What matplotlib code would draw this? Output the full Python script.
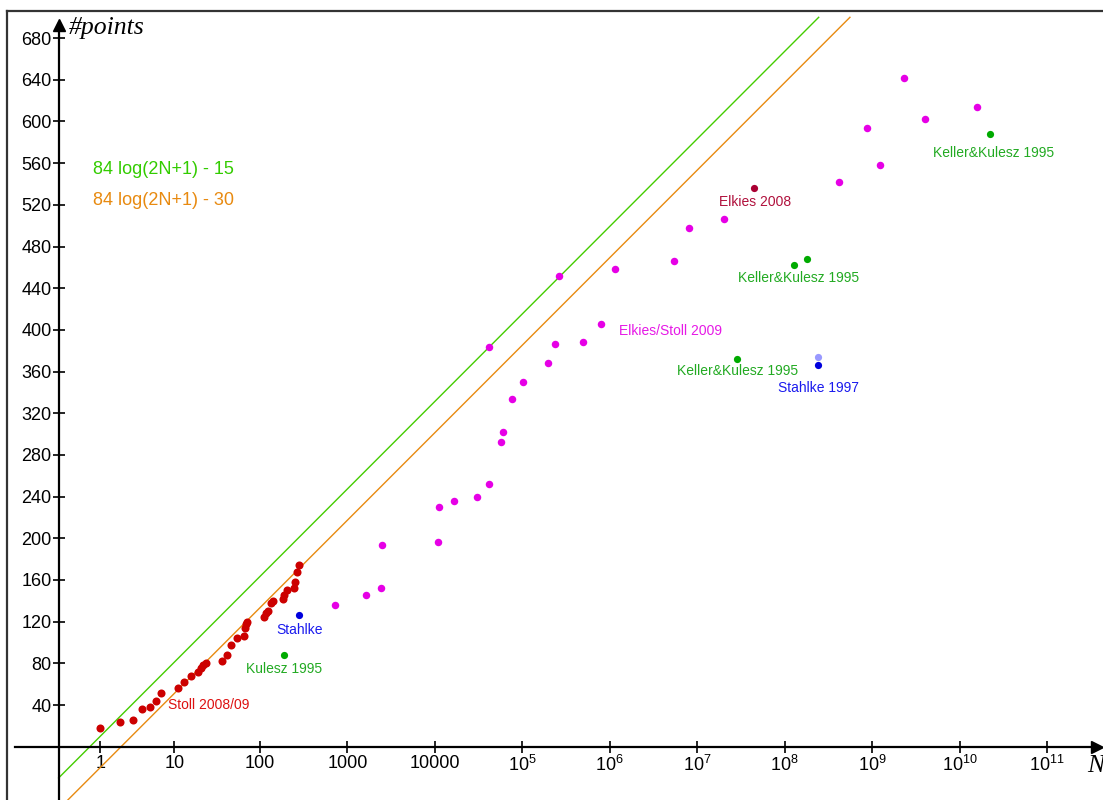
import numpy as np
import matplotlib
matplotlib.use('Agg')
from matplotlib import pyplot as plt
from matplotlib.lines import Line2D

plt.rcParams['font.family'] = ['Liberation Sans', 'DejaVu Sans']
plt.rcParams['mathtext.fontset'] = 'custom'
plt.rcParams['mathtext.rm'] = 'Liberation Sans'
plt.rcParams['mathtext.it'] = 'Liberation Sans:italic'

# records: height bound N and number of points
stoll_N = [1, 2, 3, 4, 5, 6, 7, 11, 13, 16, 19, 21, 22, 24, 36, 42, 46, 54, 66,
           67, 69, 71, 110, 117, 125, 133, 142, 182, 190, 204, 246, 250, 266, 280]
stoll_pts = [18, 24, 26, 36, 38, 44, 52, 56, 62, 68, 72, 76, 78, 80, 82, 88, 98, 104, 106,
             114, 118, 120, 124, 128, 130, 138, 140, 142, 146, 150, 152, 158, 168, 174]

es_N = [717, 1637, 2450, 2471, 10990, 11270, 16600, 30700, 41400, 42000, 57300, 60900,
        76000, 103000, 195000, 239000, 263000, 500000, 800000, 1160000, 5400000,
        8070000, 20300000, 420000000, 880000000, 1220000000, 2340000000, 4000000000,
        15800000000]
es_pts = [136, 146, 152, 194, 196, 230, 236, 240, 252, 384, 292, 302,
          334, 350, 368, 386, 452, 388, 406, 458, 466,
          498, 506, 542, 594, 558, 642, 602,
          614]

kk_N = [190, 28800000, 129000000, 182000000, 22000000000]
kk_pts = [88, 372, 462, 468, 588]

stahlke_N = [280, 243000000]
stahlke_pts = [126, 366]
stahlke_light_N = [243000000]
stahlke_light_pts = [374]

elkies_N = [45000000]
elkies_pts = [536]

tick_N = [10 ** k for k in range(12)]
tick_labels = ['1', '10', '100', '1000', '10000'] + ['$10^{%d}$' % k for k in range(5, 12)]
y_ticks = list(range(40, 681, 40))

# line offsets as drawn in the picture
green_off = 30
orange_off = 60
slope = 84


def u(n):
    return np.log10(2 * np.asarray(n, dtype=float) + 1)


fig = plt.figure(figsize=(11.03, 8.0), dpi=100)
ax = fig.add_axes([0, 0, 1, 1])
ax.set_xlim(-0.670, 11.941)
ax.set_ylim(-51.15, 716.6)

for s in ['top', 'right']:
    ax.spines[s].set_visible(False)
ax.spines['left'].set_position(('data', 0))
ax.spines['bottom'].set_position(('data', 0))
ax.spines['left'].set_bounds(-60, 694)
ax.spines['bottom'].set_bounds(-0.5, 11.87)
for s in ['left', 'bottom']:
    ax.spines[s].set_linewidth(1.6)
ax.plot([11.873], [0], marker='>', color='black', ms=8, clip_on=False)
ax.plot([0], [693], marker='^', color='black', ms=8, clip_on=False)

ax.set_xticks(u(tick_N))
ax.set_xticklabels(tick_labels)
ax.set_yticks(y_ticks)
ax.tick_params(direction='inout', length=8, width=1.2, labelsize=13)
ax.tick_params(axis='x', pad=2.2)
ax.tick_params(axis='y', pad=1.2)

# bound lines
ug = np.array([0, (700 + green_off) / slope])
uo = np.array([0, (700 + orange_off) / slope])
ax.plot(ug, slope * ug - green_off, color='#44cc00', lw=1.0)
ax.plot(uo, slope * uo - orange_off, color='#e88a10', lw=1.0)

ax.plot(u(stoll_N), stoll_pts, 'o', color='#cc0000', ms=5.8, mew=0)
ax.plot(u(es_N), es_pts, 'o', color='#e600e6', ms=5.4, mew=0)
ax.plot(u(kk_N), kk_pts, 'o', color='#00aa00', ms=5.2, mew=0)
ax.plot(u(stahlke_N), stahlke_pts, 'o', color='#0000dd', ms=5.2, mew=0)
ax.plot(u(stahlke_light_N), stahlke_light_pts, 'o', color='#9999ff', ms=5.2, mew=0)
ax.plot(u(elkies_N), elkies_pts, 'o', color='#aa0033', ms=5.2, mew=0)

lab = dict(fontsize=10, va='center', ha='left')
ax.text(1.247, 40, 'Stoll 2008/09', color='#dd1111', **lab)
ax.text(2.486, 112, 'Stahlke', color='#1a1aee', **lab)
ax.text(2.143, 74.6, 'Kulesz 1995', color='#22aa22', **lab)
ax.text(6.404, 399.2, 'Elkies/Stoll 2009', color='#e619e6', **lab)
ax.text(7.547, 522.5, 'Elkies 2008', color='#b0103c', **lab)
ax.text(7.772, 449.5, 'Keller&Kulesz 1995', color='#22aa22', **lab)
ax.text(7.074, 360.6, 'Keller&Kulesz 1995', color='#22aa22', **lab)
ax.text(8.226, 344.5, 'Stahlke 1997', color='#1a1aee', **lab)
ax.text(9.994, 569.5, 'Keller&Kulesz 1995', color='#22aa22', **lab)

ax.text(0.397, 554.1, '84 log(2N+1) - 15', color='#33cc00', fontsize=13, va='center')
ax.text(0.397, 524.5, '84 log(2N+1) - 30', color='#e88a10', fontsize=13, va='center')

ax.text(0.12, 683.7, '#points', family='Liberation Serif', style='italic',
        fontsize=18.5, va='baseline', ha='left')
ax.text(11.758, -24, 'N', family='Liberation Serif', style='italic',
        fontsize=18.5, va='baseline', ha='left', clip_on=False)

# outer frame
fx = 7 / 1103
fy = 1 - 11 / 800
fig.add_artist(Line2D([fx, fx], [0, fy], color='#333333', lw=1.6))
fig.add_artist(Line2D([fx, 1], [fy, fy], color='#333333', lw=1.6))

fig.savefig('out.png', dpi=100)
